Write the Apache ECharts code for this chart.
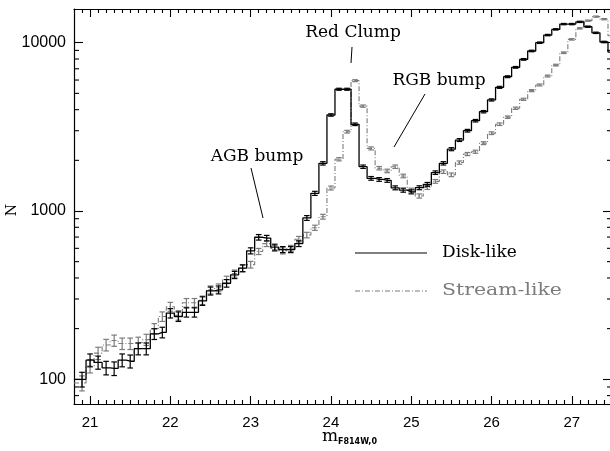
<!DOCTYPE html>
<html><head><meta charset="utf-8">
<script src="https://cdn.jsdelivr.net/npm/echarts@6/dist/echarts.min.js"></script>
<style>html,body{margin:0;padding:0;background:#fff}#c{width:610px;height:451px}</style>
</head><body><div id="c"></div>
<script>
// bin centres (m_F814W,0)
const mags = [20.8,20.9,
 21.0,21.1,21.2,21.3,21.4,21.5,21.6,21.7,21.8,21.9,
 22.0,22.1,22.2,22.3,22.4,22.5,22.6,22.7,22.8,22.9,
 23.0,23.1,23.2,23.3,23.4,23.5,23.6,23.7,23.8,23.9,
 24.0,24.1,24.2,24.3,24.4,24.5,24.6,24.7,24.8,24.9,
 25.0,25.1,25.2,25.3,25.4,25.5,25.6,25.7,25.8,25.9,
 26.0,26.1,26.2,26.3,26.4,26.5,26.6,26.7,26.8,26.9,
 27.0,27.1,27.2,27.3,27.4,27.5];
const diskLike = [100,100,
 130,126,117,116,130,128,152,152,186,190,
 247,236,250,250,292,335,340,372,417,457,
 580,698,690,610,590,590,640,909,1273,1919,
 3720,5290,5290,3275,1833,1563,1540,1520,1373,1330,
 1300,1375,1440,1690,1920,2330,2640,3000,3440,3890,
 4570,5430,6280,7140,7960,8930,10000,11100,12000,12900,
 12900,13300,12450,11450,10100,8800];
const streamLike = [95,95,
 120,143,160,170,163,163,165,172,200,236,
 270,240,285,285,295,340,350,390,425,457,
 480,575,640,600,580,600,680,720,795,925,
 1370,2030,2960,5950,4200,2355,1796,1730,1833,1615,
 1330,1228,1380,1500,1713,1640,1940,2180,2250,2530,
 2900,3280,3610,4080,4610,5190,5610,6340,7360,8720,
 10470,12170,13520,14290,13800,11000];
const seriesNames = ['Disk-like','Stream-like'];
const xTickLabels = [21,22,23,24,25,26,27];
const yTickLabels = [100,1000,10000];
const yMinorTicks = [80,90,200,300,400,500,600,700,800,900,2000,3000,4000,5000,6000,7000,8000,9000];
const xMinorTicks = [];
for (let t = 209; t <= 274; t++) { if (t % 10 !== 0) xMinorTicks.push(t / 10); }

const xMin = 20.8, xMax = 27.5, yMin = 71.3, yMax = 15860;
const BLACK = '#000', GRAY = '#7c7c7c';
const labelFont = 'Liberation Sans';
const serif = 'DejaVu Serif';

function xAx(pos, ticks, len, line, labels) {
  return {
    type: 'value', min: xMin, max: xMax, position: pos,
    axisLine: {show: line, onZero: false, lineStyle: {color: BLACK, width: 1.2}},
    axisTick: {show: true, inside: true, length: len, customValues: ticks, lineStyle: {color: BLACK, width: 1.1}},
    axisLabel: labels ? {show: true, customValues: labels, margin: 11, fontSize: 15, color: BLACK, fontFamily: labelFont} : {show: false},
    splitLine: {show: false}
  };
}

function errSeries(values, color) {
  const data = [];
  mags.forEach((m, i) => { if (m > xMin + 1e-6 && m < xMax - 1e-6) data.push([m, values[i], Math.sqrt(values[i])]); });
  return {
    type: 'custom', xAxisIndex: 0, yAxisIndex: 0, clip: true, z: 4, silent: true,
    data: data, encode: {x: 0, y: 1},
    renderItem: function (params, api) {
      const x = api.value(0), y = api.value(1), e = api.value(2);
      const t = api.coord([x, y + e]), b = api.coord([x, y - e]);
      const hw = 2.8;
      const st = {stroke: color, lineWidth: 1.2, fill: null};
      return {type: 'group', children: [
        {type: 'line', shape: {x1: t[0], y1: t[1], x2: b[0], y2: b[1]}, style: st},
        {type: 'line', shape: {x1: t[0] - hw, y1: t[1], x2: t[0] + hw, y2: t[1]}, style: st},
        {type: 'line', shape: {x1: b[0] - hw, y1: b[1], x2: b[0] + hw, y2: b[1]}, style: st}
      ]};
    }
  };
}

const minorYSeries = {
  type: 'custom', xAxisIndex: 0, yAxisIndex: 0, silent: true, z: 2, clip: false,
  data: yMinorTicks.map(v => [xMin, v]), encode: {x: 0, y: 1},
  renderItem: function (params, api) {
    const cs = params.coordSys;
    const p = api.coord([api.value(0), api.value(1)]);
    const st = {stroke: BLACK, lineWidth: 1.1};
    return {type: 'group', children: [
      {type: 'line', shape: {x1: cs.x, y1: p[1], x2: cs.x + 5, y2: p[1]}, style: st},
      {type: 'line', shape: {x1: cs.x + cs.width, y1: p[1], x2: cs.x + cs.width - 5, y2: p[1]}, style: st}
    ]};
  }
};

const chart = echarts.init(document.getElementById('c'), null, {renderer: 'canvas'});
const option = {
  animation: false,
  backgroundColor: '#fff',
  grid: {left: 74, top: 9, width: 538, height: 395, show: false, containLabel: false, outerBoundsMode: 'none'},
  xAxis: [
    xAx('bottom', xTickLabels, 8, true, xTickLabels),
    xAx('bottom', xMinorTicks, 4, false, null),
    xAx('top', xTickLabels, 8, true, null),
    xAx('top', xMinorTicks, 4, false, null)
  ],
  yAxis: [
    {type: 'log', min: yMin, max: yMax, position: 'left',
     axisLine: {show: true, onZero: false, lineStyle: {color: BLACK, width: 1.2}},
     axisTick: {show: true, inside: true, length: 9, lineStyle: {color: BLACK, width: 1.1}},
     axisLabel: {show: true, showMinLabel: false, showMaxLabel: false, margin: 8, fontSize: 16, color: BLACK, fontFamily: labelFont,
       formatter: function (v) { const r = Math.round(v); return yTickLabels.indexOf(r) >= 0 ? String(r) : ''; }},
     splitLine: {show: false}},
    {type: 'log', min: yMin, max: yMax, position: 'right',
     axisLine: {show: true, onZero: false, lineStyle: {color: BLACK, width: 1.2}},
     axisTick: {show: true, inside: true, length: 9, lineStyle: {color: BLACK, width: 1.1}},
     axisLabel: {show: false}, splitLine: {show: false}}
  ],
  series: [
    {name: seriesNames[1], type: 'line', step: 'middle', showSymbol: false, symbol: 'none', z: 3,
     data: mags.map((m, i) => [m, streamLike[i]]),
     lineStyle: {color: GRAY, width: 1.1, type: [5, 2, 1, 2]}},
    errSeries(streamLike, GRAY),
    {name: seriesNames[0], type: 'line', step: 'middle', showSymbol: false, symbol: 'none', z: 5,
     data: mags.map((m, i) => [m, diskLike[i]]),
     lineStyle: {color: BLACK, width: 1.3}},
    errSeries(diskLike, BLACK),
    minorYSeries
  ],
  graphic: [
    {type: 'text', x: 12, y: 210, rotation: Math.PI / 2, style: {text: 'N', font: '14px "DejaVu Serif"', fill: BLACK, align: 'center', verticalAlign: 'middle'}},
    {type: 'text', x: 353, y: 33, style: {text: 'Red Clump', font: '17px "DejaVu Serif"', fill: BLACK, align: 'center', verticalAlign: 'middle'}},
    {type: 'line', shape: {x1: 352, y1: 47, x2: 351, y2: 63}, style: {stroke: BLACK, lineWidth: 1}},
    {type: 'text', x: 439, y: 81, style: {text: 'RGB bump', font: '17px "DejaVu Serif"', fill: BLACK, align: 'center', verticalAlign: 'middle'}},
    {type: 'line', shape: {x1: 425, y1: 94, x2: 394, y2: 147}, style: {stroke: BLACK, lineWidth: 1}},
    {type: 'text', x: 257, y: 157, style: {text: 'AGB bump', font: '17px "DejaVu Serif"', fill: BLACK, align: 'center', verticalAlign: 'middle'}},
    {type: 'line', shape: {x1: 251, y1: 168, x2: 263, y2: 218}, style: {stroke: BLACK, lineWidth: 1}},
    {type: 'line', shape: {x1: 355, y1: 253, x2: 427, y2: 253}, style: {stroke: BLACK, lineWidth: 1.2}},
    {type: 'text', x: 442, y: 253, style: {text: seriesNames[0], font: '17px "DejaVu Serif"', fill: BLACK, align: 'left', verticalAlign: 'middle'}},
    {type: 'line', shape: {x1: 355, y1: 291, x2: 427, y2: 291}, style: {stroke: GRAY, lineWidth: 1.1, lineDash: [5, 2, 1, 2]}},
    {type: 'text', x: 442, y: 291, scaleX: 1.2, originX: 0, originY: 0, style: {text: seriesNames[1], font: '17px "DejaVu Serif"', fill: GRAY, align: 'left', verticalAlign: 'middle'}},
    {type: 'text', x: 330, y: 437, style: {text: 'm', font: '17px "DejaVu Serif"', fill: BLACK, align: 'center', verticalAlign: 'middle'}},
    {type: 'text', x: 338, y: 442, style: {text: 'F814W,0', font: 'bold 8px "DejaVu Sans"', fill: BLACK, align: 'left', verticalAlign: 'middle'}}
  ]
};
chart.setOption(option);
</script>
</body></html>
